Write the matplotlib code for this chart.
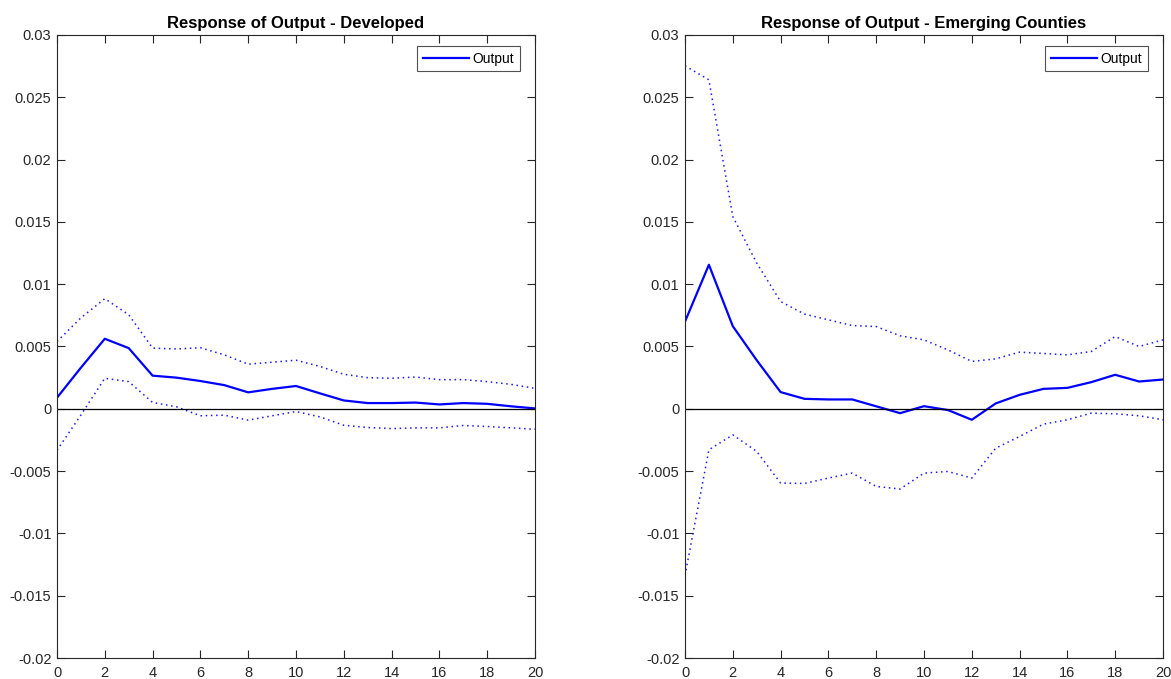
import matplotlib
matplotlib.use("Agg")
import matplotlib.pyplot as plt
import numpy as np

plt.rcParams['font.family'] = ['Liberation Sans', 'DejaVu Sans']

horizon = np.arange(0, 21)

# Developed economies: impulse response of output with error bands
dev_mid = [0.00089, 0.0033, 0.00562, 0.00487, 0.00266, 0.0025, 0.00223, 0.0019,
           0.00132, 0.0016, 0.00183, 0.00124, 0.00067, 0.00046, 0.00046, 0.0005,
           0.00035, 0.00046, 0.0004, 0.0002, 0.00003]
dev_upper = [0.0054, 0.0073, 0.00884, 0.00755, 0.00487, 0.0048, 0.0049, 0.00433,
             0.00358, 0.00374, 0.0039, 0.0034, 0.00277, 0.0025, 0.00245, 0.00255,
             0.00234, 0.00234, 0.00218, 0.00196, 0.00164]
dev_lower = [-0.00333, -0.0005, 0.00245, 0.00218, 0.00051, 0.00016, -0.00056, -0.00051,
             -0.00091, -0.00056, -0.00022, -0.00065, -0.00132, -0.0015, -0.00159, -0.00153,
             -0.00153, -0.00134, -0.00142, -0.00153, -0.00164]

# Emerging economies
emg_mid = [0.0070, 0.01156, 0.00663, 0.0039, 0.00134, 0.0008, 0.00075, 0.00075,
           0.0002, -0.00035, 0.00021, -0.0001, -0.00088, 0.00043, 0.00112, 0.0016,
           0.00168, 0.00214, 0.00273, 0.00219, 0.00235]
emg_upper = [0.02753, 0.0264, 0.01543, 0.0117, 0.00861, 0.0076, 0.00714, 0.00668,
             0.0066, 0.00586, 0.00553, 0.00473, 0.0038, 0.00401, 0.00455, 0.00444,
             0.00433, 0.0046, 0.0058, 0.005, 0.00553]
emg_lower = [-0.01337, -0.00329, -0.00209, -0.00342, -0.00596, -0.00599, -0.00556, -0.00516,
             -0.00623, -0.00644, -0.00516, -0.00503, -0.00556, -0.00316, -0.00222, -0.00123,
             -0.00088, -0.00035, -0.0004, -0.00056, -0.00088]

titles = ["Response of Output - Developed", "Response of Output - Emerging Counties"]
x_ticks = list(range(0, 21, 2))
y_ticks = [-0.02, -0.015, -0.01, -0.005, 0, 0.005, 0.01, 0.015, 0.02, 0.025, 0.03]
y_tick_labels = ["-0.02", "-0.015", "-0.01", "-0.005", "0", "0.005", "0.01",
                 "0.015", "0.02", "0.025", "0.03"]

W, H = 1171, 679
fig = plt.figure(figsize=(W / 100, H / 100), dpi=100)
axes_boxes = [(57, 35, 535, 658), (685, 35, 1163, 658)]
axis_color = (0.15, 0.15, 0.15)

panels = [(dev_mid, dev_upper, dev_lower), (emg_mid, emg_upper, emg_lower)]
for (x0, y0, x1, y1), (mid, up, lo), title in zip(axes_boxes, panels, titles):
    ax = fig.add_axes([x0 / W, 1 - y1 / H, (x1 - x0) / W, (y1 - y0) / H])
    ax.plot(horizon, mid, color=(0, 0, 1), lw=1.6, label="Output")
    ax.plot(horizon, up, color=(0, 0, 1), lw=1.1, ls=(0, (1, 2.4)), alpha=0.9)
    ax.plot(horizon, lo, color=(0, 0, 1), lw=1.1, ls=(0, (1, 2.4)), alpha=0.9)
    ax.axhline(0, color='black', lw=0.9)
    ax.set_xlim(0, 20)
    ax.set_ylim(-0.02, 0.03)
    ax.set_xticks(x_ticks)
    ax.set_yticks(y_ticks)
    ax.set_yticklabels(y_tick_labels)
    ax.tick_params(direction='in', top=True, right=True, length=5.5, width=0.8,
                   colors=axis_color, labelsize=10.5, labelcolor=(0.15, 0.15, 0.15))
    ax.tick_params(axis='x', pad=6)
    ax.tick_params(axis='y', pad=4)
    for sp in ax.spines.values():
        sp.set_color(axis_color)
        sp.set_linewidth(0.8)
    ax.set_title(title, fontsize=12, fontweight='bold', pad=5)
    leg_x = 1 - (x1 - 520 - (x0 - 57)) / (x1 - x0)
    leg_y = 1 - 11 / (y1 - y0)
    leg = ax.legend(loc='upper right', bbox_to_anchor=(leg_x, leg_y),
                    fontsize=10, frameon=True, fancybox=False,
                    handlelength=3.3, handletextpad=0.3, borderpad=0.4,
                    borderaxespad=0.0)
    leg.get_frame().set_edgecolor(axis_color)
    leg.get_frame().set_linewidth(0.8)

fig.savefig("out.png", dpi=100)
